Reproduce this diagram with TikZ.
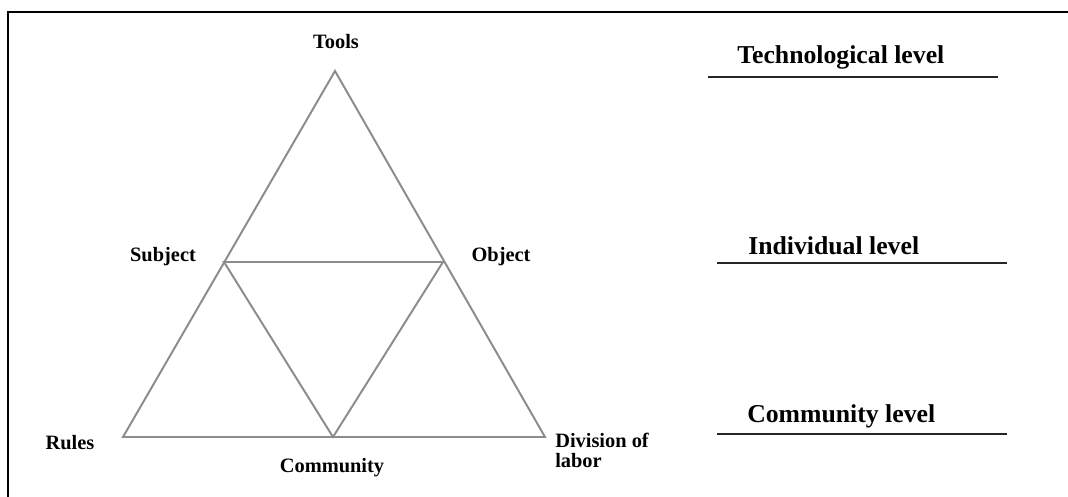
\documentclass[tikz,border=0pt]{standalone}
\usepackage{fontspec}
\setmainfont{Liberation Serif}
\begin{document}
\begin{tikzpicture}[x=0.025cm,y=-0.025cm,
  edge/.style={draw=black!45,line width=1.4pt},
  levelline/.style={draw=black!85,line width=1.9pt},
  lab/.style={font=\fontsize{14.5}{17}\selectfont\bfseries,inner sep=0pt},
  levellab/.style={font=\fontsize{18.3}{21}\selectfont\bfseries,inner sep=0pt}]
  \useasboundingbox (0,0) rectangle (1068,497);
  % frame
  \draw[line width=1.4pt] (8,497) -- (8,12) -- (1068,12);
  % triangle corners
  \coordinate (tools) at (335,71);
  \coordinate (rules) at (123,437);
  \coordinate (division) at (545,437);
  \coordinate (subject) at (224,262);
  \coordinate (object) at (443,262);
  \coordinate (community) at (333,437);
  \draw[edge,line join=miter] (tools) -- (rules) -- (division) -- cycle;
  \draw[edge] (subject) -- (object) -- (community) -- cycle;
  % labels
  \node[lab] (toolslab) at (336,42) {Tools};
  \node[lab] (subjectlab) at (163,257) {Subject};
  \node[lab] (objectlab) at (501,257) {Object};
  \node[lab] (ruleslab) at (70,443) {Rules};
  \node[lab] (communitylab) at (332,468) {Community};
  \node[lab,anchor=north west,align=left] (divisionlab) at (555,433) {Division of\\[-3pt]labor};
  % levels
  \node[levellab,anchor=west] (techlab) at (737,57) {Technological level};
  \node[levellab,anchor=west] (indlab) at (748,246) {Individual level};
  \node[levellab,anchor=west] (commlab) at (747,416) {Community level};
  \coordinate (t1) at (708,77);  \coordinate (t2) at (998,77);
  \coordinate (i1) at (717,263); \coordinate (i2) at (1007,263);
  \coordinate (c1) at (717,434); \coordinate (c2) at (1007,434);
  \foreach \a/\b in {t1/t2,i1/i2,c1/c2} {\draw[levelline] (\a) -- (\b);}
\end{tikzpicture}
\end{document}
